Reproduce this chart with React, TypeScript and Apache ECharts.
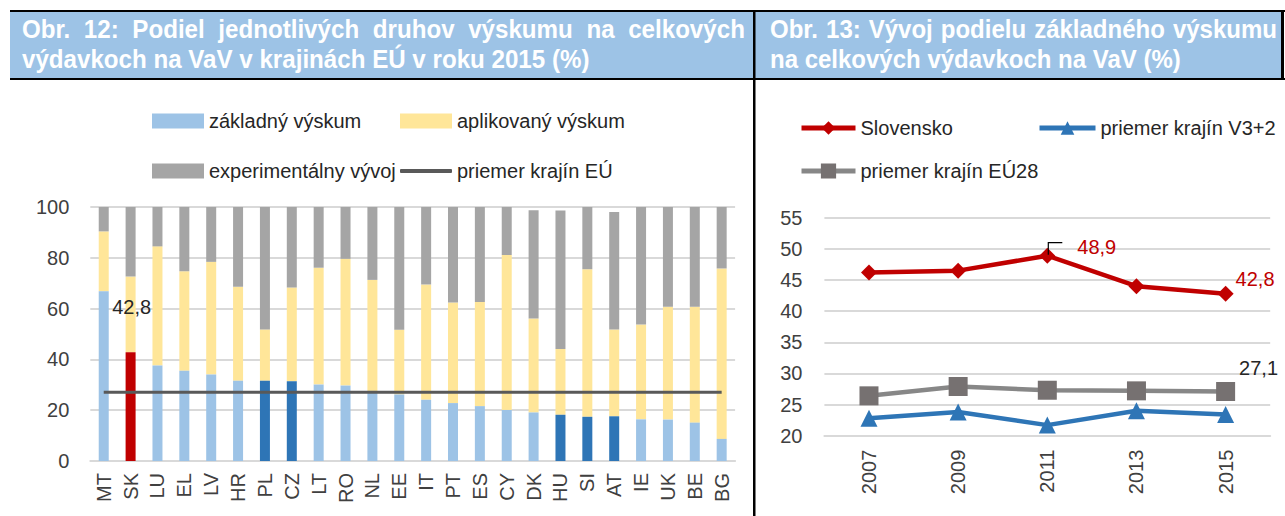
import React, { useEffect, useRef } from "react";
import * as echarts from "echarts";

// ---------- Data: Obr. 12 ----------
const countries = ["MT", "SK", "LU", "EL", "LV", "HR", "PL", "CZ", "LT", "RO", "NL", "EE", "IT", "PT", "ES", "CY", "DK", "HU", "SI", "AT", "IE", "UK", "BE", "BG"];
const basicResearch = [66.8, 42.8, 37.6, 35.5, 34.1, 31.6, 31.6, 31.4, 30.1, 29.7, 27.6, 26.2, 24.1, 22.8, 21.6, 20.1, 19.1, 18.2, 17.4, 17.6, 16.4, 16.3, 15.1, 8.7];
const appliedResearch = [23.6, 29.8, 46.9, 39.2, 44.3, 37.0, 20.2, 36.9, 46.0, 49.9, 43.7, 25.5, 45.4, 39.6, 41.0, 61.0, 37.0, 25.9, 58.1, 34.2, 37.3, 44.4, 45.6, 67.1];
const experimentalDev = [9.6, 27.4, 15.5, 25.3, 21.6, 31.4, 48.2, 31.7, 23.9, 20.4, 28.7, 48.3, 30.5, 37.6, 37.4, 18.9, 42.6, 54.5, 24.5, 46.2, 46.3, 39.3, 39.3, 24.2];
const euAverage = 27.1;
const highlightRed = ["SK"];
const highlightDark = ["PL", "CZ", "HU", "SI", "AT"];
const leftTicks = { min: 0, max: 100, interval: 20 };

// ---------- Data: Obr. 13 ----------
const years = ["2007", "2009", "2011", "2013", "2015"];
const slovensko = [46.2, 46.5, 48.9, 44.0, 42.8];
const v3plus2 = [22.8, 23.8, 21.7, 24.0, 23.4];
const eu28 = [26.4, 27.9, 27.3, 27.2, 27.1];
const rightTicks = { min: 20, max: 55, interval: 5 };

const fmt = (v: number) => v.toFixed(1).replace(".", ",");

function measure(font: string, text: string) {
  const c = document.createElement("canvas").getContext("2d")!;
  c.font = font;
  return c.measureText(text).width;
}

export default function App() {
  const ref = useRef<HTMLDivElement>(null);
  useEffect(() => {
    const narrowOk =
      measure('22px "Liberation Sans Narrow", monospace', "MMMMabcdef") !==
      measure("22px monospace", "MMMMabcdef");
    const FAM = narrowOk ? "Liberation Sans Narrow" : "Liberation Sans";
    const FS = narrowOk ? 22 : 20;
    const TXT = "#404040";

    // header texts
    const hFont = `bold 25px "${FAM}"`;
    const headerEls: any[] = [];
    const mkHeader = (id: string, x0: number, line1: string, w1: number, line2: string, w2: number) => {
      const s = w2 / measure(hFont, line2);
      const words = line1.split(" ");
      const widths = words.map((w) => measure(hFont, w));
      const sum = widths.reduce((a, b) => a + b, 0);
      const gap = (w1 / s - sum) / (words.length - 1);
      let cx = 0;
      const children: any[] = [];
      words.forEach((w, i) => {
        children.push({
          type: "text",
          x: cx,
          y: 29.5,
          style: { text: w, fill: "#ffffff", font: hFont, verticalAlign: "middle", textVerticalAlign: "middle" },
        });
        cx += widths[i] + gap;
      });
      children.push({
        type: "text",
        x: 0,
        y: 59.5,
        style: { text: line2, fill: "#ffffff", font: hFont, verticalAlign: "middle", textVerticalAlign: "middle" },
      });
      headerEls.push({ type: "group", id, x: x0, y: 0, scaleX: s, children });
    };

    const graphics: any[] = [
      { type: "rect", id: "hbg", shape: { x: 10, y: 12, width: 1271, height: 66 }, style: { fill: "#9DC3E6" } },
      { type: "rect", id: "htop", shape: { x: 10, y: 10, width: 1275, height: 2 }, style: { fill: "#000" } },
      { type: "rect", id: "hbot", shape: { x: 10, y: 78, width: 1275, height: 2 }, style: { fill: "#000" } },
      { type: "rect", id: "hright", shape: { x: 1281, y: 10, width: 3, height: 70 }, style: { fill: "#000" } },
      { type: "rect", id: "hdiv", shape: { x: 753, y: 10, width: 2.5, height: 506 }, style: { fill: "#000" } },
    ];
    mkHeader("hl", 22, "Obr. 12: Podiel jednotlivých druhov výskumu na celkových", 723, "výdavkoch na VaV v krajinách EÚ v roku 2015 (%)", 568);
    mkHeader("hr", 770, "Obr. 13: Vývoj podielu základného výskumu", 507, "na celkových výdavkoch na VaV (%)", 411);

    const chart = echarts.init(ref.current!, null, { renderer: "svg" });

    const basicData = basicResearch.map((v, i) => {
      const c = countries[i];
      if (highlightRed.includes(c)) {
        return {
          value: v,
          itemStyle: { color: "#C00000" },
          label: {
            show: true,
            position: "top",
            distance: 35,
            offset: [1, 0],
            formatter: () => fmt(v),
            color: "#262626",
            fontFamily: FAM,
            fontSize: FS,
          },
        };
      }
      if (highlightDark.includes(c)) return { value: v, itemStyle: { color: "#2E75B6" } };
      return v;
    });

    const avgData = countries.map((_, i) =>
      i === countries.length - 1
        ? {
            value: euAverage,
            label: {
              show: true,
              position: "top",
              distance: 14,
              align: "right",
              offset: [3, 0],
              formatter: () => fmt(euAverage),
              color: "#262626",
              fontFamily: FAM,
              fontSize: FS,
            },
          }
        : euAverage
    );

    const legendBase = {
      padding: 0,
      itemGap: 0,
      textStyle: { color: "#262626", fontFamily: FAM, fontSize: FS },
      selectedMode: false,
      orient: "horizontal",
    };

    const lastLabel = (v: number, color: string, dist: number, dy: number) => ({
      show: true,
      position: "right",
      distance: dist,
      offset: [0, dy],
      formatter: () => fmt(v),
      color,
      fontFamily: FAM,
      fontSize: FS,
    });

    const skData = slovensko.map((v, i) => {
      if (i === 2) return { value: v, label: lastLabel(v, "#C00000", 22, -9) };
      if (i === slovensko.length - 1) return { value: v, label: lastLabel(v, "#C00000", 2, -15) };
      return v;
    });
    const euData = eu28.map((v, i) =>
      i === eu28.length - 1 ? { value: v, label: lastLabel(v, "#262626", 4, -23) } : v
    );

    const axisLabel = { color: TXT, fontFamily: FAM, fontSize: FS };
    const rightLegend = { ...legendBase, lineStyle: { width: 5 } };

    chart.setOption({
      animation: false,
      backgroundColor: "#ffffff",
      textStyle: { fontFamily: FAM },
      graphic: { elements: [...graphics, ...headerEls] },
      legend: [
        { ...legendBase, data: ["základný výskum"], left: 152, top: 111, itemWidth: 52, itemHeight: 15, icon: "rect" },
        { ...legendBase, data: ["aplikovaný výskum"], left: 400, top: 111, itemWidth: 52, itemHeight: 15, icon: "rect" },
        { ...legendBase, data: ["experimentálny vývoj"], left: 152, top: 161, itemWidth: 52, itemHeight: 15, icon: "rect" },
        {
          ...legendBase,
          data: [{ name: "priemer krajín EÚ", icon: "roundRect" }],
          left: 400,
          top: 161,
          itemWidth: 52,
          itemHeight: 4,
          itemStyle: { color: "#595959" },
        },
        { ...rightLegend, data: ["Slovensko"], left: 799, top: 118, itemWidth: 54, itemHeight: 17 },
        { ...rightLegend, data: ["priemer krajín V3+2"], left: 1037, top: 118, itemWidth: 56, itemHeight: 17 },
        { ...rightLegend, data: ["priemer krajín EÚ28"], left: 799, top: 161, itemWidth: 54, itemHeight: 19 },
      ],
      grid: [
        { left: 90.3, right: 1285 - 735.1, top: 207, bottom: 516 - 461 },
        { left: 824.4, right: 1285 - 1270.2, top: 217.7, bottom: 516 - 435.7 },
      ],
      xAxis: [
        {
          type: "category",
          gridIndex: 0,
          data: countries,
          axisTick: { show: false },
          axisLine: { lineStyle: { color: "#D9D9D9", width: 2 } },
          axisLabel: { ...axisLabel, rotate: 90, margin: 12, interval: 0 },
        },
        {
          type: "category",
          gridIndex: 1,
          data: years,
          axisTick: { show: false },
          axisLine: { lineStyle: { color: "#D9D9D9", width: 2 } },
          axisLabel: { ...axisLabel, rotate: 90, margin: 14, interval: 0 },
        },
      ],
      yAxis: [
        {
          type: "value",
          gridIndex: 0,
          ...leftTicks,
          axisLine: { show: false },
          axisTick: { show: false },
          splitLine: { lineStyle: { color: "#D9D9D9", width: 2 } },
          axisLabel: { ...axisLabel, margin: 21 },
        },
        {
          type: "value",
          gridIndex: 1,
          ...rightTicks,
          axisLine: { show: false },
          axisTick: { show: false },
          splitLine: { lineStyle: { color: "#D9D9D9", width: 2 } },
          axisLabel: { ...axisLabel, margin: 22 },
        },
      ],
      series: [
        {
          name: "základný výskum",
          type: "bar",
          stack: "a",
          xAxisIndex: 0,
          yAxisIndex: 0,
          barWidth: 10,
          z: 3,
          itemStyle: { color: "#9DC3E6" },
          data: basicData,
        },
        {
          name: "aplikovaný výskum",
          type: "bar",
          stack: "a",
          xAxisIndex: 0,
          yAxisIndex: 0,
          barWidth: 10,
          itemStyle: { color: "#FFE699" },
          data: appliedResearch,
        },
        {
          name: "experimentálny vývoj",
          type: "bar",
          stack: "a",
          xAxisIndex: 0,
          yAxisIndex: 0,
          barWidth: 10,
          itemStyle: { color: "#A5A5A5" },
          data: experimentalDev,
        },
        {
          name: "priemer krajín EÚ",
          type: "line",
          xAxisIndex: 0,
          yAxisIndex: 0,
          symbol: "none",
          z: 4,
          lineStyle: { color: "#595959", width: 3 },
          itemStyle: { color: "#595959" },
          data: avgData,
        },
        {
          name: "Slovensko",
          type: "line",
          xAxisIndex: 1,
          yAxisIndex: 1,
          symbol: "diamond",
          symbolSize: 16,
          lineStyle: { color: "#C00000", width: 4.5 },
          itemStyle: { color: "#C00000" },
          data: skData,
        },
        {
          name: "priemer krajín V3+2",
          type: "line",
          xAxisIndex: 1,
          yAxisIndex: 1,
          symbol: "triangle",
          symbolSize: 17,
          lineStyle: { color: "#2E75B6", width: 4.5 },
          itemStyle: { color: "#2E75B6" },
          data: v3plus2,
        },
        {
          name: "priemer krajín EÚ28",
          type: "line",
          xAxisIndex: 1,
          yAxisIndex: 1,
          symbol: "rect",
          symbolSize: 19,
          lineStyle: { color: "#878787", width: 4.5 },
          itemStyle: { color: "#767171" },
          data: euData,
        },
      ],
    });

    // small leader line for the 2011 label
    const p = chart.convertToPixel({ xAxisIndex: 1, yAxisIndex: 1 }, [years[2], slovensko[2]]) as number[];
    if (p) {
      chart.setOption({
        graphic: {
          elements: [
            {
              type: "polyline",
              id: "leader",
              shape: { points: [[p[0] + 1, p[1] - 1], [p[0] + 1, p[1] - 13], [p[0] + 15, p[1] - 13]] },
              style: { stroke: "#000", lineWidth: 1.2, fill: null },
              z: 10,
            },
          ],
        },
      });
    }

    return () => chart.dispose();
  }, []);
  return <div ref={ref} style={{ position: "absolute", left: 0, top: 0, width: 1285, height: 516 }} />;
}
